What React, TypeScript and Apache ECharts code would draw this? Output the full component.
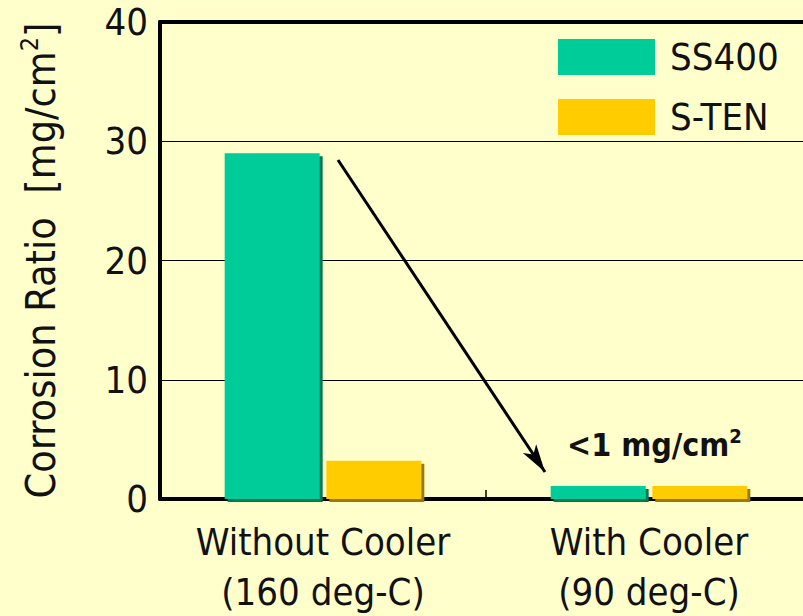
import React, { useEffect, useRef } from "react";
import * as echarts from "echarts";

const categories = ["Without Cooler\n(160 deg-C)", "With Cooler\n(90 deg-C)"];
const seriesNames = ["SS400", "S-TEN"];
const ss400Values = [29, 1.1];
const stenValues = [3.2, 1.1];
const yTicks = { min: 0, max: 40, interval: 10 };

const FONT = "'Liberation Sans Narrow', 'Arial Narrow', 'DejaVu Sans Condensed', sans-serif";

export default function App() {
  const ref = useRef<HTMLDivElement>(null);
  useEffect(() => {
    if (!ref.current) return;
    const chart = echarts.init(ref.current, null, { renderer: "svg" });
    const option: any = {
      animation: false,
      backgroundColor: "#FFFFCC",
      textStyle: { fontFamily: FONT, color: "#111" },
      grid: { left: 160, top: 22, width: 652, height: 477, outerBoundsMode: "none", containLabel: false },
      legend: {
        orient: "vertical",
        left: 558,
        top: 38,
        padding: 0,
        itemWidth: 97,
        itemHeight: 36,
        itemGap: 22,
        icon: "rect",
        data: seriesNames,
        textStyle: { fontFamily: FONT, fontSize: 38, color: "#111", padding: [0, 0, 0, 10] },
      },
      xAxis: [
        {
          type: "category",
          data: categories,
          axisLine: { lineStyle: { color: "#000", width: 4 } },
          axisTick: { show: true, inside: true, length: 9, lineStyle: { color: "#000", width: 1.5 } },
          axisLabel: { fontFamily: FONT, fontSize: 38, lineHeight: 50, color: "#111", margin: 18, interval: 0 },
        },
        {
          type: "category",
          position: "top",
          data: categories,
          axisLine: { show: true, lineStyle: { color: "#000", width: 4 } },
          axisTick: { show: false },
          axisLabel: { show: false },
        },
      ],
      yAxis: {
        type: "value",
        min: yTicks.min,
        max: yTicks.max,
        interval: yTicks.interval,
        axisLine: { show: true, lineStyle: { color: "#000", width: 4 } },
        axisTick: { show: false },
        axisLabel: { fontFamily: FONT, fontSize: 38, color: "#111", margin: 12 },
        splitLine: { lineStyle: { color: "#000", width: 1 } },
        name: "{a|Corrosion Ratio  [mg/cm}{s|2}{a|]}",
        nameLocation: "middle",
        nameGap: 95,
        nameRotate: 90,
        nameTextStyle: {
          rich: {
            a: { fontFamily: FONT, fontSize: 41, color: "#111", lineHeight: 48 },
            s: { fontFamily: FONT, fontSize: 25, color: "#111", lineHeight: 48, verticalAlign: "top" },
          },
        },
      },
      series: [
        {
          name: seriesNames[0],
          type: "bar",
          data: ss400Values,
          barWidth: 95,
          barGap: "7%",
          itemStyle: {
            color: "#00CC99",
            shadowColor: "#007A55",
            shadowOffsetX: 3,
            shadowOffsetY: 3,
            shadowBlur: 0,
          },
          markLine: {
            silent: true,
            symbol: ["none", "arrow"],
            symbolSize: [12, 28],
            label: { show: false },
            lineStyle: { color: "#000", width: 3, type: "solid" },
            data: [[{ x: 338, y: 160 }, { x: 545, y: 472 }]],
          },
        },
        {
          name: seriesNames[1],
          type: "bar",
          data: stenValues,
          barWidth: 95,
          barGap: "7%",
          itemStyle: {
            color: "#FFCC00",
            shadowColor: "#9A7A00",
            shadowOffsetX: 3,
            shadowOffsetY: 3,
            shadowBlur: 0,
          },
        },
      ],
      graphic: [
        {
          type: "text",
          left: 567,
          top: 426,
          style: {
            text: "{a|<1 mg/cm}{s|2}",
            rich: {
              a: { fontFamily: FONT, fontSize: 32, fontWeight: "bold", fill: "#111", lineHeight: 38 },
              s: { fontFamily: FONT, fontSize: 20, fontWeight: "bold", fill: "#111", lineHeight: 38, verticalAlign: "top" },
            },
          },
        },
      ],
    };
    chart.setOption(option);
    return () => chart.dispose();
  }, []);
  return (
    <div
      ref={ref}
      style={{ position: "fixed", left: 0, top: 0, width: 803, height: 616 }}
    />
  );
}
